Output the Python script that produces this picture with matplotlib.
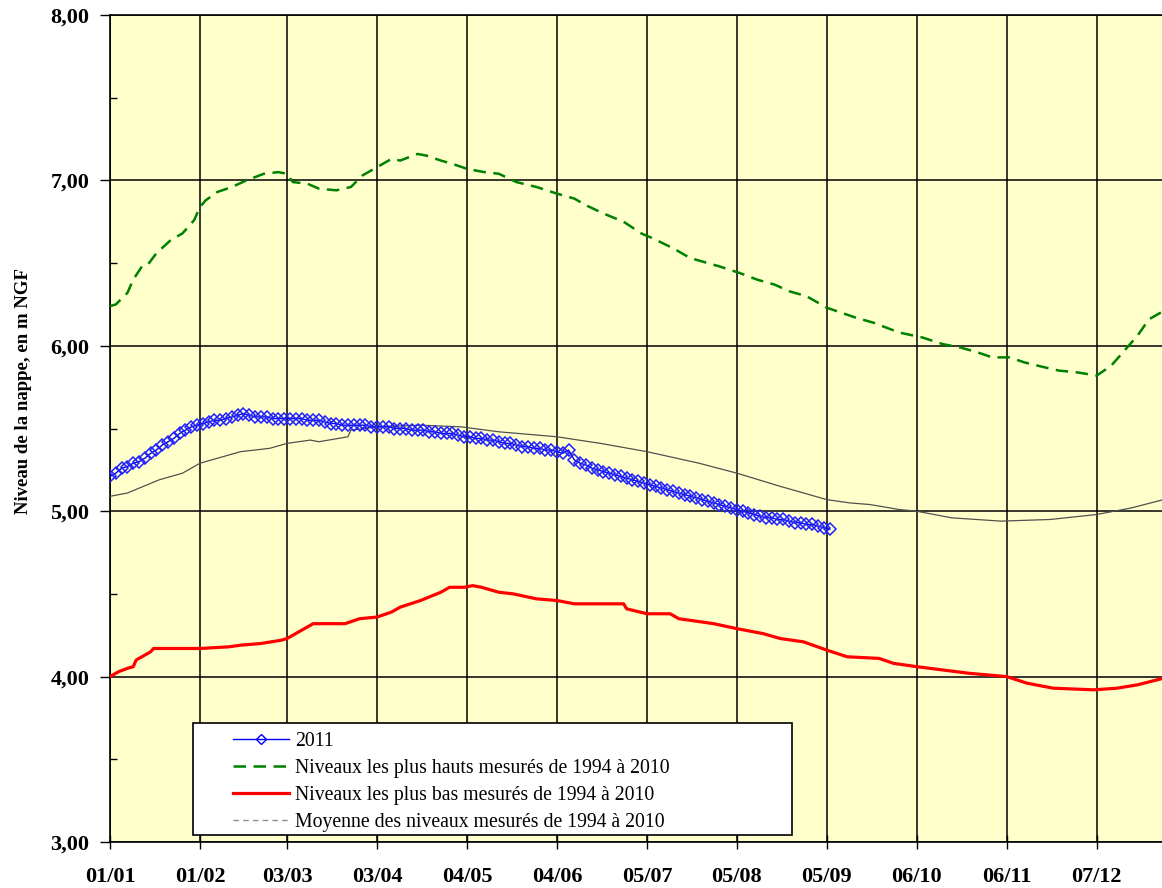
import matplotlib
matplotlib.use("Agg")
import matplotlib.pyplot as plt
import numpy as np
from matplotlib.lines import Line2D
from matplotlib.patches import Rectangle

# jour de l'année (0 = 01/01)
tick_days = [0, 31, 61, 92, 123, 154, 185, 216, 247, 278, 309, 340]
tick_labels = ["01/01", "01/02", "03/03", "03/04", "04/05", "04/06",
               "05/07", "05/08", "05/09", "06/10", "06/11", "07/12"]

# 2011, un point tous les 2 jours
days_2011 = np.arange(0, 249, 2)
niv_2011 = [
    5.21, 5.23, 5.26, 5.27, 5.29, 5.30, 5.32, 5.35, 5.37, 5.40,
    5.42, 5.44, 5.47, 5.49, 5.51, 5.52, 5.53, 5.54, 5.55, 5.55,
    5.56, 5.57, 5.58, 5.59, 5.58, 5.57, 5.57, 5.57, 5.56, 5.56,
    5.56, 5.56, 5.56, 5.56, 5.55, 5.55, 5.55, 5.54, 5.53, 5.53,
    5.52, 5.52, 5.52, 5.52, 5.52, 5.51, 5.51, 5.51, 5.51, 5.50,
    5.50, 5.50, 5.49, 5.49, 5.49, 5.48, 5.48, 5.47, 5.47, 5.47,
    5.46, 5.45, 5.45, 5.44, 5.44, 5.43, 5.43, 5.42, 5.41, 5.41,
    5.40, 5.39, 5.39, 5.38, 5.38, 5.37, 5.37, 5.36, 5.35, 5.37,
    5.31, 5.29, 5.28, 5.26, 5.25, 5.24, 5.23, 5.22, 5.21, 5.20,
    5.19, 5.18, 5.17, 5.16, 5.15, 5.14, 5.13, 5.12, 5.11, 5.10,
    5.09, 5.08, 5.07, 5.06, 5.05, 5.04, 5.03, 5.02, 5.01, 5.00,
    4.99, 4.98, 4.97, 4.96, 4.96, 4.95, 4.95, 4.94, 4.93, 4.93,
    4.92, 4.92, 4.91, 4.90, 4.89,
]

# niveaux les plus hauts 1994-2010
days_max = [0, 2, 6, 8, 11, 13, 16, 21, 25, 29, 31, 33, 37, 42, 47, 53, 58,
            61, 63, 68, 72, 78, 83, 87, 92, 97, 100, 106, 109, 114, 118, 123,
            129, 134, 140, 147, 154, 160, 164, 170, 177, 183, 187, 194, 200,
            204, 210, 217, 223, 229, 234, 240, 247, 252, 257, 263, 272, 280,
            287, 293, 299, 304, 310, 315, 322, 327, 333, 340, 345, 349, 354,
            358, 363]
niv_max = [6.24, 6.25, 6.32, 6.40, 6.48, 6.49, 6.56, 6.64, 6.68, 6.76, 6.84,
           6.88, 6.93, 6.96, 7.00, 7.04, 7.05, 7.04, 6.99, 6.98, 6.95, 6.94,
           6.96, 7.03, 7.08, 7.13, 7.12, 7.16, 7.15, 7.12, 7.10, 7.07, 7.05,
           7.04, 6.99, 6.96, 6.92, 6.89, 6.85, 6.80, 6.75, 6.68, 6.65, 6.59,
           6.53, 6.51, 6.48, 6.44, 6.40, 6.37, 6.33, 6.30, 6.23, 6.20, 6.17,
           6.14, 6.08, 6.05, 6.01, 5.99, 5.96, 5.93, 5.93, 5.90, 5.87, 5.85,
           5.84, 5.82, 5.88, 5.96, 6.06, 6.16, 6.21]

# niveaux les plus bas 1994-2010
days_min = [0, 2, 3, 6, 8, 9, 11, 14, 15, 31, 41, 45, 52, 59, 61, 66, 70, 81,
            86, 92, 97, 100, 107, 114, 117, 122, 125, 128, 134, 139, 147, 154,
            160, 165, 177, 178, 185, 193, 196, 208, 216, 225, 231, 239, 247,
            254, 265, 270, 278, 287, 296, 309, 316, 325, 339, 347, 354, 363]
niv_min = [4.00, 4.02, 4.03, 4.05, 4.06, 4.10, 4.12, 4.15, 4.17, 4.17, 4.18,
           4.19, 4.20, 4.22, 4.23, 4.28, 4.32, 4.32, 4.35, 4.36, 4.39, 4.42,
           4.46, 4.51, 4.54, 4.54, 4.55, 4.54, 4.51, 4.50, 4.47, 4.46, 4.44,
           4.44, 4.44, 4.41, 4.38, 4.38, 4.35, 4.32, 4.29, 4.26, 4.23, 4.21,
           4.16, 4.12, 4.11, 4.08, 4.06, 4.04, 4.02, 4.00, 3.96, 3.93, 3.92,
           3.93, 3.95, 3.99]

# moyenne 1994-2010
days_moy = [0, 6, 17, 25, 31, 45, 55, 61, 69, 72, 82, 83, 92, 107, 121, 134,
            154, 169, 185, 203, 216, 231, 247, 255, 262, 272, 278, 290, 307,
            324, 340, 352, 363]
niv_moy = [5.09, 5.11, 5.19, 5.23, 5.29, 5.36, 5.38, 5.41, 5.43, 5.42, 5.45,
           5.49, 5.51, 5.52, 5.51, 5.48, 5.45, 5.41, 5.36, 5.29, 5.23, 5.15,
           5.07, 5.05, 5.04, 5.01, 5.00, 4.96, 4.94, 4.95, 4.98, 5.02, 5.07]

lab_2011 = "2011"
lab_max = "Niveaux les plus hauts mesurés de 1994 à 2010"
lab_min = "Niveaux les plus bas mesurés de 1994 à 2010"
lab_moy = "Moyenne des niveaux mesurés de 1994 à 2010"

plt.rcParams["font.family"] = ["Liberation Serif", "DejaVu Serif"]

fig = plt.figure(figsize=(11.62, 8.88), dpi=100)
ax = fig.add_axes([110 / 1162, 46 / 888, 1052 / 1162, 827 / 888])
ax.set_facecolor("#FFFFCC")

ax.plot(days_moy, niv_moy, color="#505050", lw=0.9, zorder=3)
ax.plot(days_max, niv_max, color="#008000", lw=1.8, dashes=(5, 3), zorder=3)
ax.plot(days_min, niv_min, color="#FF0000", lw=2.3, zorder=3)
ax.plot(days_2011, niv_2011, color="#0000FF", lw=1, marker="D", ms=6.5,
        mfc="none", mec="#2020FF", mew=1.1, zorder=4)

ax.set_xlim(0, 362.5)
ax.set_ylim(3, 8)
ax.set_xticks(tick_days)
ax.set_xticklabels(tick_labels)
ax.set_yticks([3, 4, 5, 6, 7, 8])
ax.set_yticklabels([f"{v},00" for v in [3, 4, 5, 6, 7, 8]])
ax.set_yticks([3.5, 4.5, 5.5, 6.5, 7.5], minor=True)
ax.tick_params(axis="y", which="major", direction="out", length=7, width=1,
               pad=8, labelsize=16)
ax.tick_params(axis="y", which="minor", direction="in", length=5, width=1)
ax.tick_params(axis="x", direction="inout", length=10, width=1, pad=13,
               labelsize=16)
for lbl in ax.get_xticklabels() + ax.get_yticklabels():
    lbl.set_fontweight("bold")

ax.grid(True, which="major", color="black", lw=1.1, zorder=1)
ax.set_axisbelow(True)
ax.spines["right"].set_visible(False)
for s in ["left", "bottom", "top"]:
    ax.spines[s].set_linewidth(1.2)

ax.set_ylabel("Niveau de la nappe, en m NGF", fontsize=13.5, fontweight="bold")
ax.yaxis.set_label_coords(-0.074, 0.545)

# cadre de la légende
ax.add_patch(Rectangle((0.0789, 0.0085), 0.5694, 0.1354, transform=ax.transAxes,
                       facecolor="white", edgecolor="black", lw=1.2, zorder=5))
handles = [
    Line2D([], [], color="#0000FF", lw=1, marker="D", ms=5, mfc="none",
           mec="#0000FF", mew=1, markevery=[1]),
    Line2D([], [], color="#008000", lw=1.8, dashes=(5, 3)),
    Line2D([], [], color="#FF0000", lw=2.3),
    Line2D([], [], color="#909090", lw=1, dashes=(4, 3)),
]
leg = ax.legend(handles, [lab_2011, lab_max, lab_min, lab_moy],
                loc="upper left", bbox_to_anchor=(0.117, 0.133),
                frameon=False, borderpad=0, borderaxespad=0, fontsize=14.2,
                handlelength=2.85, handletextpad=0.3, labelspacing=0.4)
leg.set_zorder(6)

fig.savefig("out.png", dpi=100, facecolor="white")
